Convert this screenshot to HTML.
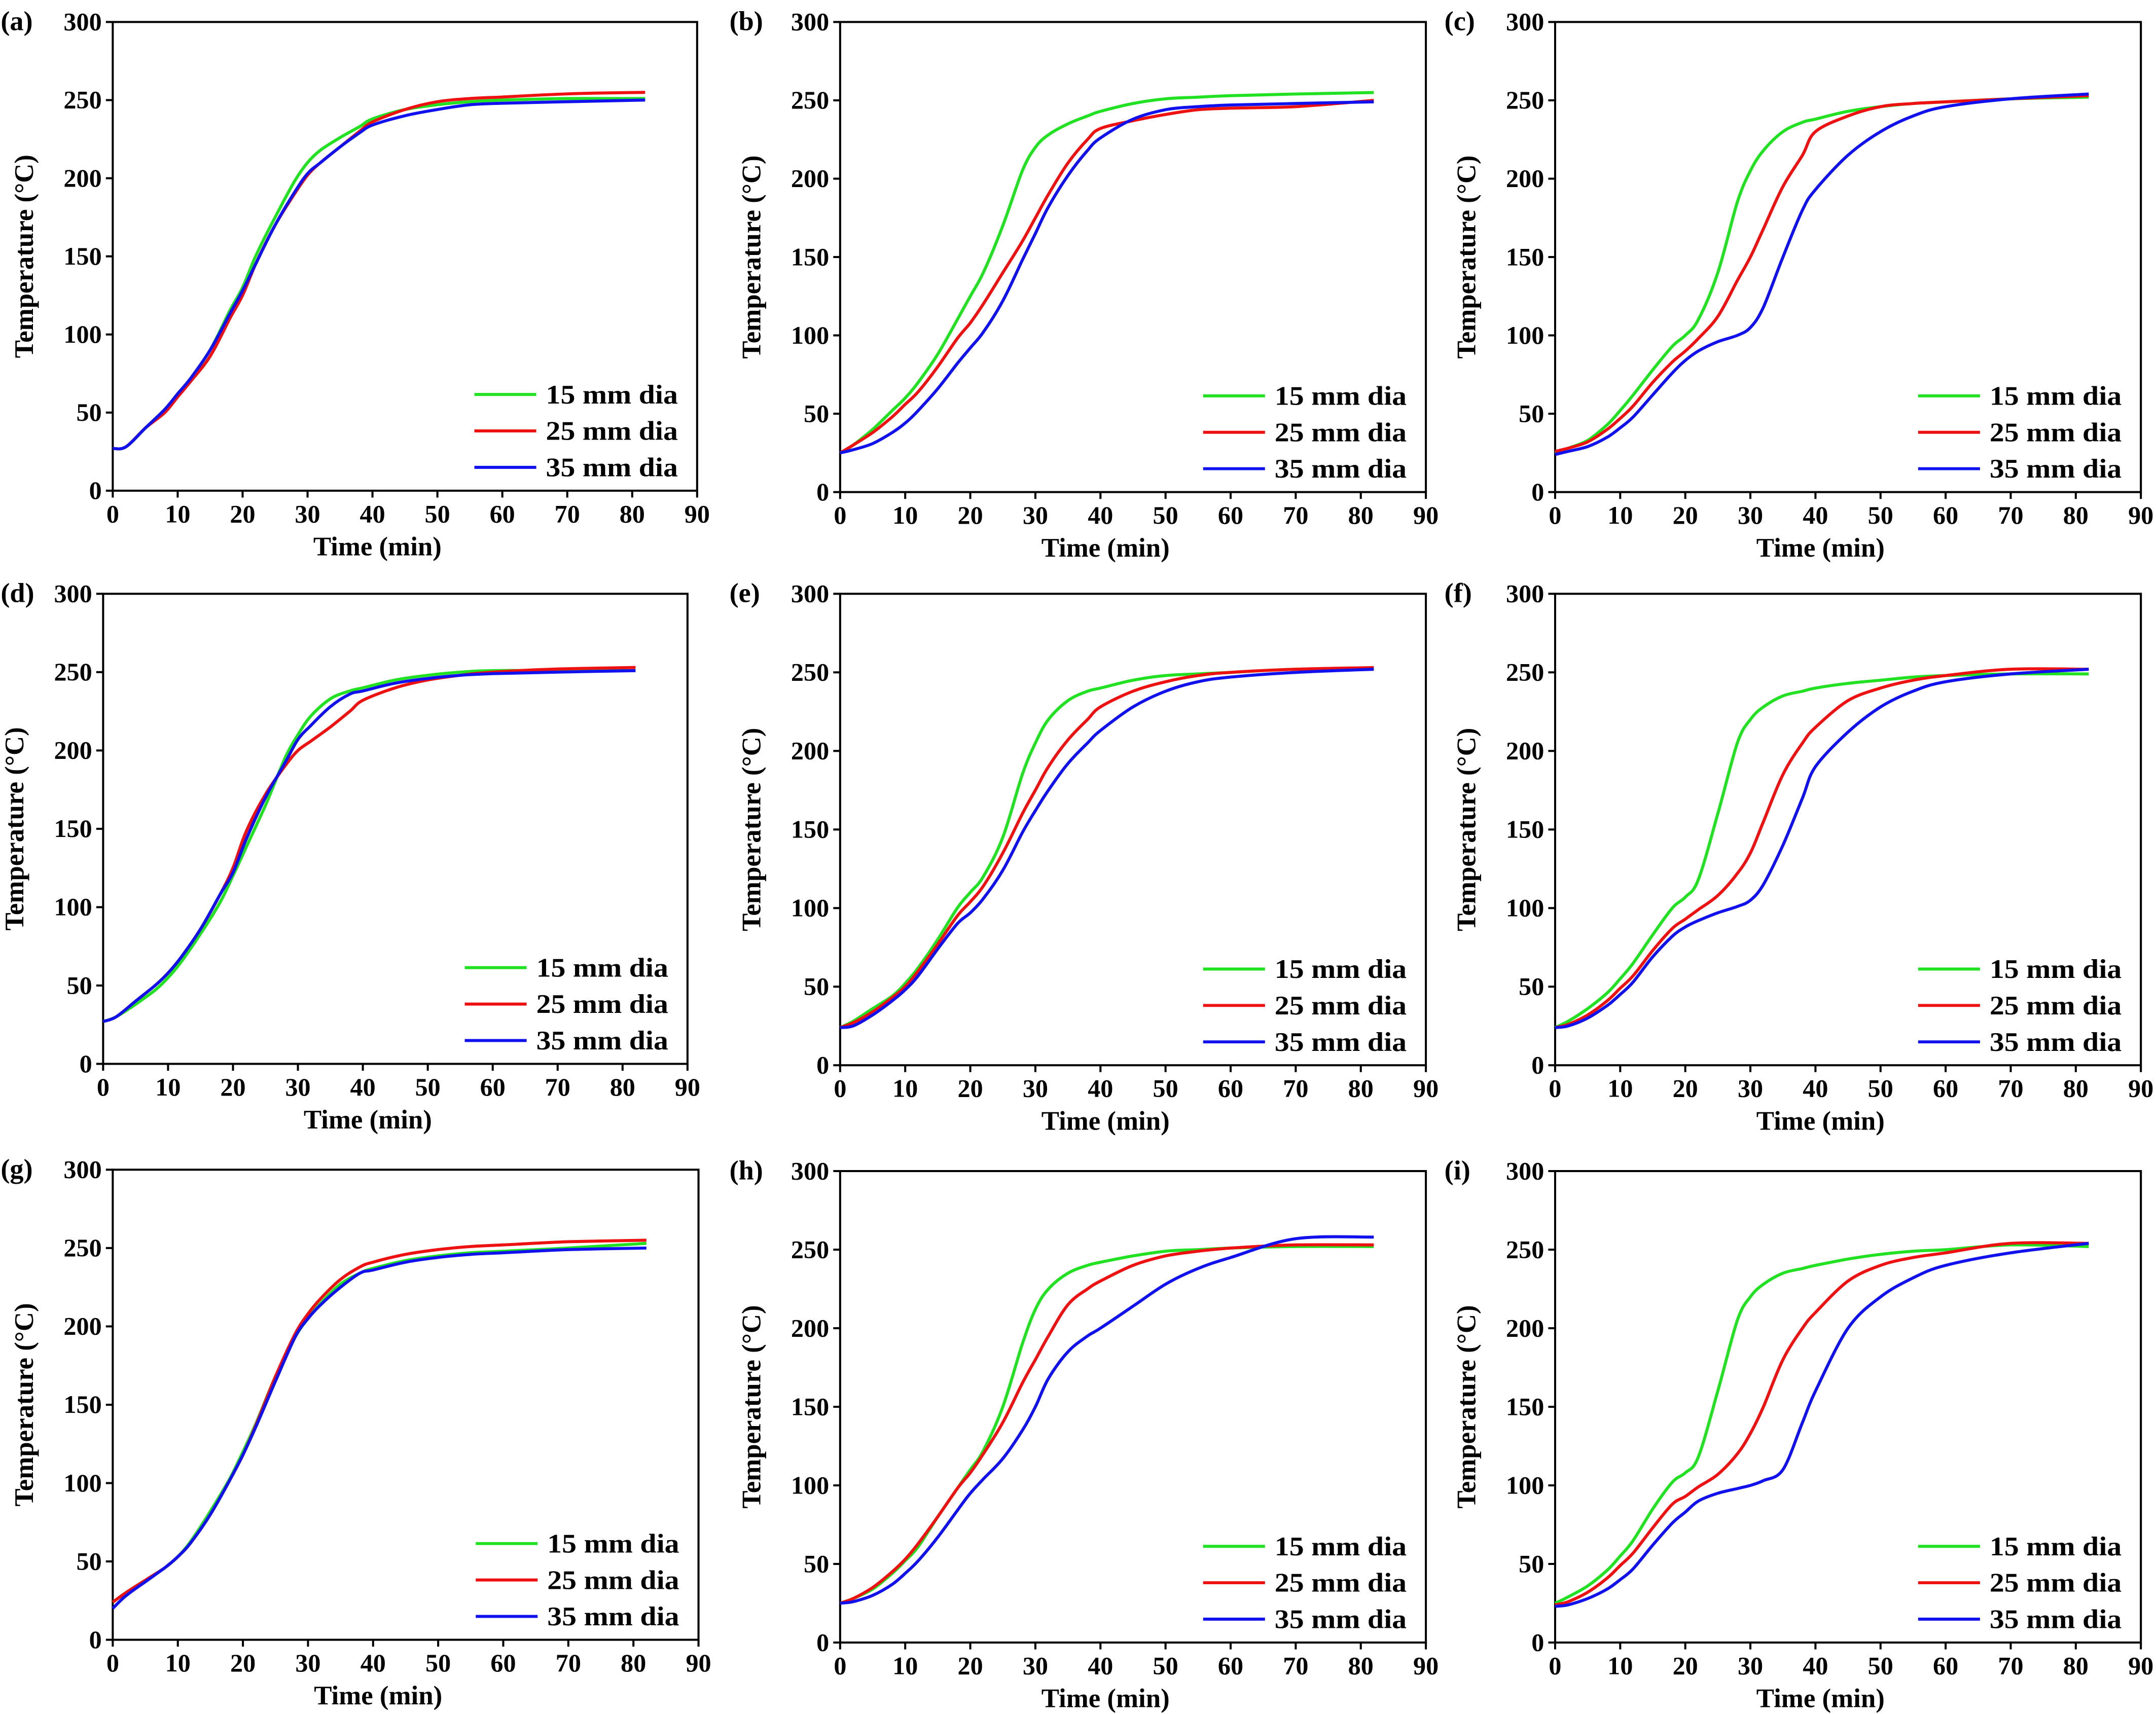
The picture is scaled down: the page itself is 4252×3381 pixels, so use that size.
<!DOCTYPE html>
<html><head><meta charset="utf-8"><style>
html,body{margin:0;padding:0;background:#fff;}
svg{display:block;}
text{font-family:"Liberation Serif",serif;font-weight:bold;fill:#000;}
</style></head><body>
<svg id="fig" width="4252" height="3381" viewBox="0 0 1568 1247" preserveAspectRatio="none" xmlns="http://www.w3.org/2000/svg"></svg>
<script>
const times = [0,2,5,8,10,12,15,18,20,22,25,28,30,32,35,38,40,45,50,55,60,70,82];
const xTicks = [0,10,20,30,40,50,60,70,80,90];
const yTicks = [0,50,100,150,200,250,300];
const seriesNames = ["15 mm dia","25 mm dia","35 mm dia"];
const seriesColors = ["#22e022","#ee1111","#1111ee"];
const panelLabels = ["(a)","(b)","(c)","(d)","(e)","(f)","(g)","(h)","(i)"];
const aG=[27,28,40,52,62,72,90,115,130,150,175,198,210,218,226,233,238,244,247,249,250,251,251];
const aR=[27,28,40,50,60,70,86,110,125,145,170,190,202,210,220,230,236,244,249,251,252,254,255];
const aB=[27,28,40,52,62,72,90,113,128,145,170,191,203,210,220,229,234,240,244,247,248,249,250];
const bG=[25,30,40,52,60,70,88,110,125,140,170,205,220,228,235,240,243,248,251,252,253,254,255];
const bR=[25,30,38,48,56,64,80,98,108,120,140,160,175,190,210,225,232,237,241,244,245,246,250];
const bB=[25,27,31,38,44,52,66,82,92,102,122,148,165,182,202,218,226,238,244,246,247,248,249];
const cG=[25,28,33,43,52,62,78,93,100,110,140,185,205,218,230,236,238,243,246,248,249,251,252];
const cR=[26,28,32,40,47,55,70,83,90,98,112,135,150,168,195,215,230,240,246,248,249,251,253];
const cB=[24,26,29,35,41,48,62,76,84,90,96,100,105,118,150,180,193,215,230,240,246,251,254];
const dG=[27,30,38,47,55,65,83,103,120,138,165,195,210,222,233,238,240,245,248,250,251,251,251];
const dR=[27,30,40,50,58,68,86,108,125,148,172,190,200,206,215,225,232,240,245,248,250,252,253];
const dB=[27,30,40,50,58,68,86,108,122,143,170,192,207,216,228,236,238,243,246,248,249,250,251];
const eG=[24,28,36,44,52,62,80,100,110,120,145,185,205,220,232,238,240,245,248,249,250,252,252];
const eR=[24,27,34,43,50,60,77,95,104,114,135,160,175,190,207,220,228,238,244,248,250,252,253];
const eB=[24,25,32,41,48,57,74,90,97,106,124,148,162,175,192,205,213,228,238,244,247,250,252];
const fG=[24,28,36,46,55,65,83,100,107,118,160,205,220,228,235,238,240,243,245,247,248,249,249];
const fR=[24,26,32,41,49,57,73,87,93,99,108,122,135,155,185,205,215,232,240,245,248,252,252];
const fB=[24,25,30,38,45,53,69,82,88,92,97,101,105,115,140,170,190,212,228,238,244,249,252];
const gG=[24,30,38,46,53,63,82,103,120,138,168,193,205,215,227,234,237,242,245,247,248,250,253];
const gR=[24,30,38,46,53,62,80,102,118,137,168,195,208,218,230,238,241,246,249,251,252,254,255];
const gB=[20,28,37,46,53,62,80,102,118,136,165,193,205,214,225,234,236,241,244,246,247,249,250];
const hG=[25,28,34,44,52,61,80,98,110,122,150,190,212,225,235,240,242,246,249,250,251,252,252];
const hR=[25,28,35,45,53,63,80,98,108,120,140,165,180,195,215,225,230,240,246,249,251,253,253];
const hB=[25,26,30,37,44,52,67,84,95,104,117,135,150,168,185,195,200,214,228,238,245,257,258];
const iG=[25,29,36,46,55,65,85,102,108,118,160,205,220,228,235,238,240,244,247,249,250,253,252];
const iR=[24,26,32,41,49,57,73,88,93,99,107,120,133,150,180,200,210,230,240,245,248,254,254];
const iB=[23,24,28,34,40,47,62,76,83,90,95,98,100,103,110,140,160,200,220,232,240,248,254];
const panelData=[[aG,aR,aB],[bG,bR,bB],[cG,cR,cB],[dG,dR,dB],[eG,eR,eB],[fG,fR,fB],[gG,gR,gB],[hG,hR,hB],[iG,iR,iB]];

const boxes=[[82,507,16,357],[611,1037,16,358],[1131,1557,16,358],
             [75,500,432,774],[611,1037,432,775],[1131,1557,432,775],
             [82,508,851,1193],[611,1037,852,1195],[1131,1557,852,1195]];
const labelX=[0,530,1050];
const NS="http://www.w3.org/2000/svg";
const svg=document.getElementById('fig');
function mk(tag,attrs,parent){const e=document.createElementNS(NS,tag);for(const k in attrs)e.setAttribute(k,attrs[k]);parent.appendChild(e);return e;}
function smooth(pts){
  let d='M'+pts[0][0].toFixed(1)+' '+pts[0][1].toFixed(1);
  for(let i=0;i<pts.length-1;i++){
    const p0=pts[Math.max(0,i-1)],p1=pts[i],p2=pts[i+1],p3=pts[Math.min(pts.length-1,i+2)];
    const c1=[p1[0]+(p2[0]-p0[0])/6,p1[1]+(p2[1]-p0[1])/6];
    const c2=[p2[0]-(p3[0]-p1[0])/6,p2[1]-(p3[1]-p1[1])/6];
    d+='C'+c1[0].toFixed(1)+' '+c1[1].toFixed(1)+' '+c2[0].toFixed(1)+' '+c2[1].toFixed(1)+' '+p2[0].toFixed(1)+' '+p2[1].toFixed(1);
  }
  return d;
}

boxes.forEach((b,pi)=>{
  const [L,R,T,B]=b;
  const xs=v=>L+(v-0)/90*(R-L);
  const ys=v=>B-(v-0)/300*(B-T);
  const g=mk('g',{},svg);
  
  
  const lbl=mk('text',{x:labelX[pi%3]+0.5,y:T+6,'font-size':20},g);
  lbl.textContent=panelLabels[pi];
  
  
  const fr=mk('rect',{x:L,y:T,width:R-L,height:B-T,fill:'none',stroke:'#000','stroke-width':1.5},g);
  
  
  xTicks.forEach(t=>{
    const x=xs(t);
    mk('line',{x1:x,x2:x,y1:B,y2:B+5,stroke:'#000','stroke-width':1.5},g);
    const tx=mk('text',{x:x,y:B+23,'font-size':18.5,'text-anchor':'middle'},g);
    tx.textContent=t;
    
    
  });
  yTicks.forEach(t=>{
    const y=ys(t);
    mk('line',{x1:L-5,x2:L,y1:y,y2:y,stroke:'#000','stroke-width':1.5},g);
    const tx=mk('text',{x:L-8,y:y+6,'font-size':18.5,'text-anchor':'end'},g);
    tx.textContent=t;
    
    
  });
  const xt=mk('text',{x:(L+R)/2-20,y:B+47,'font-size':19.5,'text-anchor':'middle'},g);
  xt.textContent='Time (min)';
  
  
  const yx=L-58,yy=(T+B)/2;
  const yt=mk('text',{x:yx,y:yy,'font-size':19.5,'text-anchor':'middle',transform:`rotate(-90 ${yx} ${yy})`},g);
  yt.textContent='Temperature (°C)';
  
  
  panelData[pi].forEach((vals,si)=>{
    const pts=vals.map((v,k)=>[xs(times[k]),ys(v)]);
    const p=mk('path',{d:smooth(pts),fill:'none',stroke:seriesColors[si],'stroke-width':2.2,'stroke-linejoin':'round'},g);
    
    
    const ly=B-70+si*26.5;
    const ll=mk('line',{x1:R-162,x2:R-117,y1:ly,y2:ly,stroke:seriesColors[si],'stroke-width':2.2},g);
    
    
    const lt=mk('text',{x:R-110,y:ly+6.5,'font-size':19.5,textLength:96,lengthAdjust:'spacingAndGlyphs'},g);
    lt.textContent=seriesNames[si];
    
    
  });
});
</script>
</body></html>
